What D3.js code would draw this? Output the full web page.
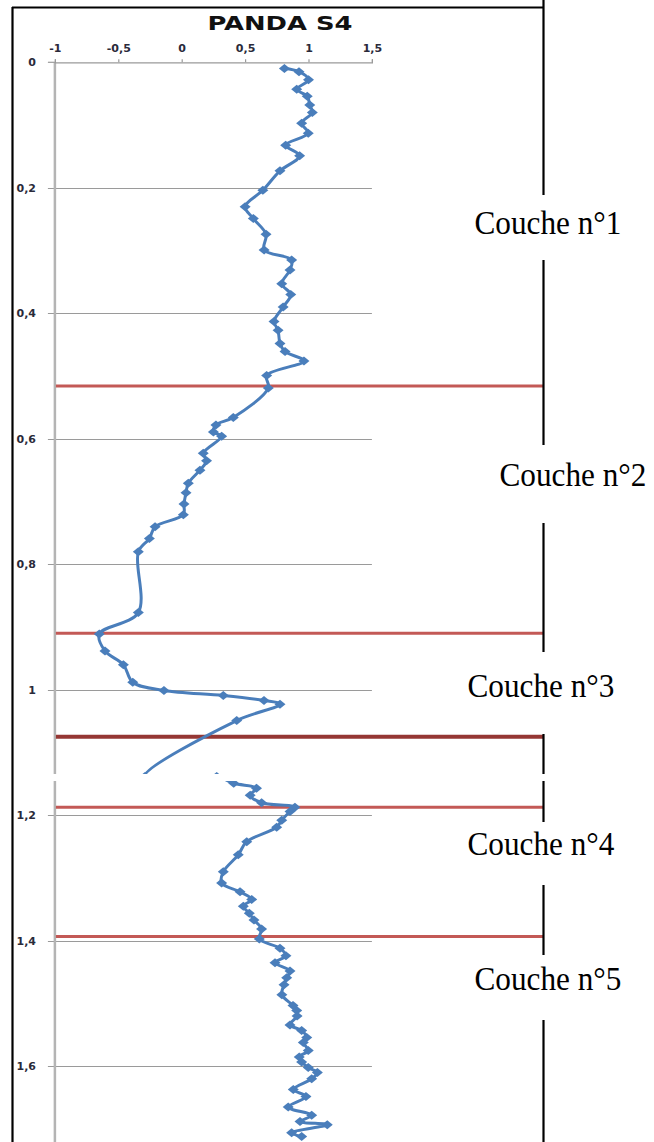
<!DOCTYPE html>
<html>
<head>
<meta charset="utf-8">
<script src="https://cdn.jsdelivr.net/npm/d3@7"></script>
<style>
  html, body { margin: 0; padding: 0; background: #fff; }
  svg { display: block; }
</style>
</head>
<body>
<svg id="chart" width="654" height="1142"></svg>
<script>
// Profile PANDA S4: measured value vs depth
const depths = [
  0.010, 0.015, 0.028, 0.043, 0.054, 0.068, 0.080, 0.097, 0.113, 0.132,
  0.149, 0.173, 0.204, 0.230, 0.249, 0.274, 0.299, 0.315, 0.331, 0.353,
  0.370, 0.390, 0.413, 0.427, 0.448, 0.461, 0.476, 0.499, 0.519, 0.566,
  0.578, 0.589, 0.596, 0.623, 0.635, 0.650, 0.671, 0.686, 0.704, 0.721,
  0.740, 0.759, 0.780, 0.877, 0.911, 0.938, 0.960, 0.988, 1.001, 1.009,
  1.017, 1.023, 1.049, 1.138, 1.138, 1.149, 1.157, 1.168, 1.180, 1.187,
  1.194, 1.208, 1.219, 1.242, 1.263, 1.290, 1.308, 1.322, 1.334, 1.345,
  1.356, 1.367, 1.381, 1.397, 1.412, 1.424, 1.435, 1.448, 1.459, 1.470,
  1.486, 1.503, 1.511, 1.520, 1.534, 1.543, 1.554, 1.562, 1.575, 1.585,
  1.593, 1.602, 1.610, 1.620, 1.637, 1.648, 1.665, 1.678, 1.688, 1.693,
  1.706, 1.712
];
const values = [
  0.81, 0.925, 1.00, 0.907, 0.99, 1.01, 1.03, 0.946, 0.998, 0.82,
  0.93, 0.775, 0.64, 0.50, 0.565, 0.665, 0.65, 0.867, 0.854, 0.789,
  0.86, 0.80, 0.728, 0.76, 0.775, 0.815, 0.964, 0.67, 0.683, 0.407,
  0.27, 0.25, 0.315, 0.17, 0.196, 0.144, 0.052, 0.034, 0.018, 0.013,
  -0.21, -0.255, -0.342, -0.342, -0.65, -0.605, -0.46, -0.386, -0.14, 0.328,
  0.649, 0.775, 0.434, -0.29, 0.276, 0.41, 0.59, 0.54, 0.63, 0.893,
  0.854, 0.789, 0.749, 0.513, 0.446, 0.328, 0.315, 0.46, 0.552, 0.486,
  0.533, 0.57, 0.63, 0.612, 0.775, 0.822, 0.736, 0.854, 0.828, 0.807,
  0.79, 0.878, 0.907, 0.91, 0.854, 0.946, 0.986, 0.959, 0.998, 0.927,
  0.946, 0.998, 1.07, 1.025, 0.88, 0.98, 0.84, 1.025, 0.933, 1.148,
  0.867, 0.946
];

// Layer boundaries (depth) and layer names
const boundaries = [0.516, 0.910, 1.075, 1.187, 1.393];
const layerNames = ["Couche n°1", "Couche n°2", "Couche n°3", "Couche n°4", "Couche n°5"];

// Axis ticks
const xTicks = [-1, -0.5, 0, 0.5, 1, 1.5];
const yTicks = [0, 0.2, 0.4, 0.6, 0.8, 1.0, 1.2, 1.4, 1.6];
const title = "PANDA S4";

const svg = d3.select("#chart");
const W = 654, H = 1142;

const x = d3.scaleLinear().domain([-1, 1.5]).range([54.9, 371.9]);
const y = d3.scaleLinear().domain([0, 1.8]).range([62.3, 1191.8]);
const fmt = v => String(v).replace(".", ",");

svg.append("rect").attr("width", W).attr("height", H).attr("fill", "#fff");

// Horizontal gridlines
svg.append("g").selectAll("line").data(yTicks.slice(1)).join("line")
  .attr("x1", x(-1) - 7).attr("x2", x(1.5))
  .attr("y1", d => Math.round(y(d)) + 0.5).attr("y2", d => Math.round(y(d)) + 0.5)
  .attr("stroke", "#9a9a9a").attr("stroke-width", 1.2);

// Vertical axis (at x = -1)
svg.append("line")
  .attr("x1", x(-1)).attr("x2", x(-1)).attr("y1", y(0)).attr("y2", H)
  .attr("stroke", "#b4b4b4").attr("stroke-width", 2.5);
svg.append("line")
  .attr("x1", x(-1) - 7).attr("x2", x(-1)).attr("y1", y(0)).attr("y2", y(0))
  .attr("stroke", "#9a9a9a").attr("stroke-width", 1.2);

// Top axis
const xAxis = d3.axisTop(x).tickValues(xTicks).tickSize(3).tickPadding(7).tickFormat(fmt);
const gx = svg.append("g").attr("transform", `translate(0,${y(0)})`).call(xAxis);
gx.select(".domain").attr("stroke", "#9a9a9a").attr("stroke-width", 1.2);
gx.selectAll(".tick line").attr("stroke", "#9a9a9a").attr("stroke-width", 1.2);
gx.selectAll(".tick text")
  .attr("font-family", "DejaVu Sans, sans-serif").attr("font-size", 11)
  .attr("font-weight", "bold").attr("fill", "#2a2a3a");

// Vertical axis labels
svg.append("g").selectAll("text").data(yTicks).join("text")
  .attr("x", 36).attr("y", d => y(d)).attr("dy", "0.36em")
  .attr("text-anchor", "end")
  .attr("font-family", "DejaVu Sans, sans-serif").attr("font-size", 11)
  .attr("font-weight", "bold").attr("fill", "#2a2a3a")
  .text(fmt);

// Title
svg.append("text")
  .attr("x", 280).attr("y", 30).attr("text-anchor", "middle")
  .attr("font-family", "DejaVu Sans, sans-serif").attr("font-size", 20)
  .attr("font-weight", "bold").attr("fill", "#111")
  .attr("textLength", 145).attr("lengthAdjust", "spacingAndGlyphs")
  .text(title);

// Layer boundary lines
const frameRight = 543.5;
svg.append("g").selectAll("line").data(boundaries).join("line")
  .attr("x1", x(-1) + 1).attr("x2", frameRight)
  .attr("y1", d => y(d)).attr("y2", d => y(d))
  .attr("stroke", (d, i) => i === 2 ? "#953734" : "#c0504d")
  .attr("stroke-width", (d, i) => i === 2 ? 4 : 3)
  .attr("stroke-opacity", (d, i) => i === 2 ? 1 : 0.95);

// Profile line
const pts = depths.map((d, i) => [values[i], d]);
const line = d3.line().x(p => x(p[0])).y(p => y(p[1])).curve(d3.curveCatmullRom.alpha(0.5));
svg.append("path").datum(pts).attr("d", line)
  .attr("fill", "none").attr("stroke", "#4a7ebb").attr("stroke-width", 3)
  .attr("stroke-linejoin", "round");

// Diamond markers
const diamond = "M0,-4.5L5.5,0L0,4.5L-5.5,0Z";
svg.append("g").selectAll("path").data(pts).join("path")
  .attr("d", diamond)
  .attr("transform", p => `translate(${x(p[0])},${y(p[1])})`)
  .attr("fill", "#4a7ebb");

// Frame
svg.append("line").attr("x1", 12.5).attr("x2", 12.5).attr("y1", 7).attr("y2", H)
  .attr("stroke", "#000").attr("stroke-width", 2.2);
svg.append("line").attr("x1", 12).attr("x2", frameRight).attr("y1", 7.5).attr("y2", 7.5)
  .attr("stroke", "#000").attr("stroke-width", 2.2);

// Right border, interrupted by the layer names
const rightSegs = [[0, 195], [260, 445], [523, 652], [734, 822], [885, 955], [1020, H]];
svg.append("g").selectAll("line").data(rightSegs).join("line")
  .attr("x1", frameRight).attr("x2", frameRight)
  .attr("y1", s => s[0]).attr("y2", s => s[1])
  .attr("stroke", "#000").attr("stroke-width", 2.2);

// White band across the profile
svg.append("rect").attr("x", 14).attr("y", 774).attr("width", 534).attr("height", 7).attr("fill", "#fff");

// Layer names
const labelPos = [[548, 234], [573, 486], [541, 697], [541, 855], [548, 990]];
svg.append("g").selectAll("text").data(layerNames).join("text")
  .attr("x", (d, i) => labelPos[i][0]).attr("y", (d, i) => labelPos[i][1])
  .attr("text-anchor", "middle")
  .attr("font-family", "Liberation Serif, Times New Roman, serif")
  .attr("font-size", 33).attr("fill", "#000")
  .attr("textLength", 147).attr("lengthAdjust", "spacingAndGlyphs")
  .text(d => d);
</script>
</body>
</html>
